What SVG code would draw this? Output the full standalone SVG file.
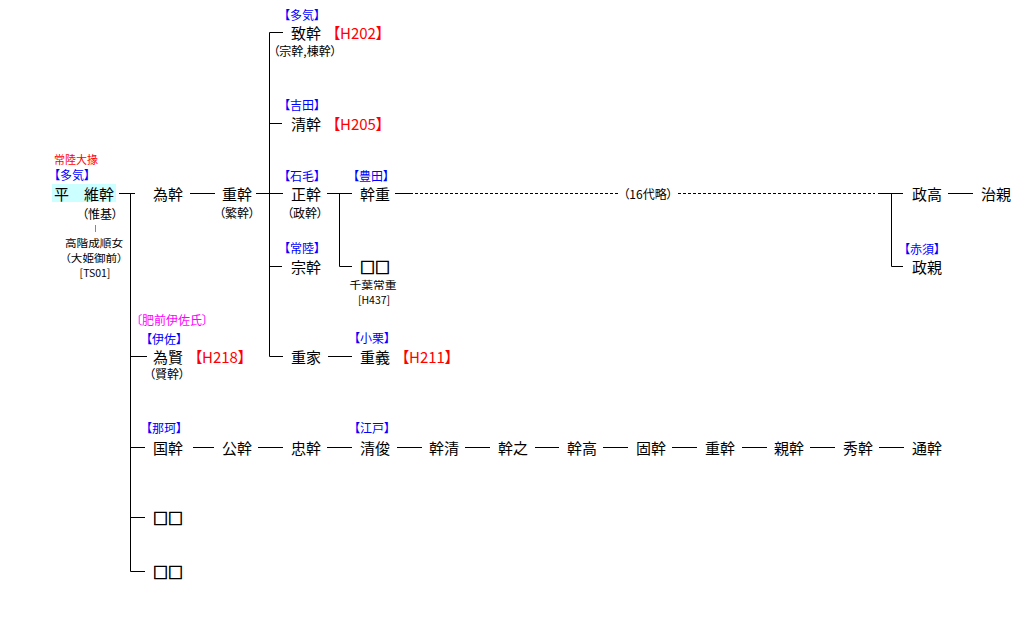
<svg xmlns="http://www.w3.org/2000/svg" width="1017" height="618" viewBox="0 0 1017 618">
<style>
text{font-family:"Noto Sans CJK JP","Noto Sans CJK SC",sans-serif;dominant-baseline:central;text-anchor:middle}
.n{font-size:15px;fill:#000}
.q{font-size:15px;fill:#000;stroke:#000;stroke-width:0.7}
.b{font-size:12px;fill:#0000ff;font-feature-settings:"palt"}
.r{font-size:15px;fill:#ff0000;font-feature-settings:"palt"}
.s{font-size:12px;fill:#000;font-feature-settings:"palt"}
.k{font-size:10.5px;fill:#000;font-feature-settings:"palt"}
.t{font-size:11px;fill:#ff0000;font-feature-settings:"palt"}
.m{font-size:12px;fill:#ff00ff;font-feature-settings:"palt"}
.l{fill:none;stroke:#000;stroke-width:1}
.d{fill:none;stroke:#000;stroke-width:1;stroke-dasharray:3 2}
</style>
<rect width="1017" height="618" fill="#fff"/>
<g id="connectors">
<path class="l" d="M119,193.5H135M130.5,193.5V571.5H145M130.5,356.5H147M130.5,447.5H145M130.5,517.5H145"/>
<path class="l" d="M190,193.5H215M256,193.5H283M283,32.5H269.5V356.5H283M269.5,123.5H282M269.5,266.5H282"/>
<path class="l" d="M327,193.5H352M339.5,193.5V266.5H352M395,193.5H410M878,193.5H903M891.5,193.5V266.5H903M948,193.5H973M328,356.5H352"/>
<path class="d" d="M410,193.5H620M678,193.5H875"/>
<path class="l" d="M193,447.5H214M258,447.5H283M327,447.5H352M397,447.5H422M465,447.5H490M535,447.5H559M603,447.5H628M672,447.5H697M742,447.5H767M810,447.5H835M879,447.5H904"/>
<path d="M95.5,225V232" stroke="#888" stroke-width="1"/>
<text class="s" x="648" y="193">（16代略）</text>
</g>
<g id="n-koremoto">
<text class="t" x="76" y="159">常陸大掾</text>
<text class="b" x="72" y="174">【多気】</text>
<rect x="52" y="184" width="64" height="18" fill="#ccffff"/>
<text class="n" x="54" y="193" style="text-anchor:start">平　維幹</text>
<text class="s" x="100" y="213">（惟基）</text>
<text class="k" x="94" y="242" textLength="58" lengthAdjust="spacingAndGlyphs">高階成順女</text>
<text class="k" x="94" y="257" textLength="58" lengthAdjust="spacingAndGlyphs">（大姫御前）</text>
<text class="k" x="95" y="272">[TS01]</text>
</g>
<g id="n-tamemoto"><text class="n" x="168" y="193">為幹</text></g>
<g id="n-shigemoto"><text class="n" x="237" y="193">重幹</text><text class="s" x="237" y="212">（繁幹）</text></g>
<g id="n-munemoto1"><text class="b" x="302" y="14">【多気】</text><text class="n" x="306" y="32">致幹</text><text class="r" x="358" y="32">【H202】</text><text class="s" x="305" y="50">（宗幹,棟幹）</text></g>
<g id="n-kiyomoto"><text class="b" x="302" y="104">【吉田】</text><text class="n" x="306" y="123">清幹</text><text class="r" x="358" y="123">【H205】</text></g>
<g id="n-masamoto"><text class="b" x="302" y="175">【石毛】</text><text class="n" x="306" y="193">正幹</text><text class="s" x="305" y="212">（政幹）</text></g>
<g id="n-munemoto"><text class="b" x="302" y="247">【常陸】</text><text class="n" x="306" y="266">宗幹</text></g>
<g id="n-shigeie"><text class="n" x="306" y="356">重家</text></g>
<g id="n-motoshige"><text class="b" x="371" y="175">【豊田】</text><text class="n" x="375" y="193">幹重</text></g>
<g id="n-unknown1"><text class="q" x="375" y="266">□□</text><text class="k" x="373" y="284" textLength="47" lengthAdjust="spacingAndGlyphs">千葉常重</text><text class="k" x="374" y="299">[H437]</text></g>
<g id="n-shigeyoshi"><text class="b" x="372" y="337">【小栗】</text><text class="n" x="375" y="356">重義</text><text class="r" x="427" y="356">【H211】</text></g>
<g id="n-masataka"><text class="n" x="927" y="193">政高</text></g>
<g id="n-haruchika"><text class="n" x="996" y="193">治親</text></g>
<g id="n-masachika"><text class="b" x="922" y="248">【赤須】</text><text class="n" x="927" y="266">政親</text></g>
<g id="n-tamekata"><text class="m" x="172" y="319">〔肥前伊佐氏〕</text><text class="b" x="164" y="338">【伊佐】</text><text class="n" x="168" y="356">為賢</text><text class="r" x="220" y="356">【H218】</text><text class="s" x="167" y="373">（賢幹）</text></g>
<g id="n-kunimoto"><text class="b" x="164" y="427">【那珂】</text><text class="n" x="168" y="447">国幹</text></g>
<g id="n-kimimoto"><text class="n" x="237" y="447">公幹</text></g>
<g id="n-tadamoto"><text class="n" x="306" y="447">忠幹</text></g>
<g id="n-shigetoshi"><text class="b" x="372" y="427">【江戸】</text><text class="n" x="375" y="447">清俊</text></g>
<g id="n-motokiyo"><text class="n" x="444" y="447">幹清</text></g>
<g id="n-motoyuki"><text class="n" x="513" y="447">幹之</text></g>
<g id="n-mototaka"><text class="n" x="582" y="447">幹高</text></g>
<g id="n-katamoto"><text class="n" x="651" y="447">固幹</text></g>
<g id="n-shigemoto2"><text class="n" x="720" y="447">重幹</text></g>
<g id="n-chikamoto"><text class="n" x="789" y="447">親幹</text></g>
<g id="n-hidemoto"><text class="n" x="858" y="447">秀幹</text></g>
<g id="n-michimoto"><text class="n" x="927" y="447">通幹</text></g>
<g id="n-unknown2"><text class="q" x="168" y="517">□□</text></g>
<g id="n-unknown3"><text class="q" x="168" y="571">□□</text></g>
</svg>
